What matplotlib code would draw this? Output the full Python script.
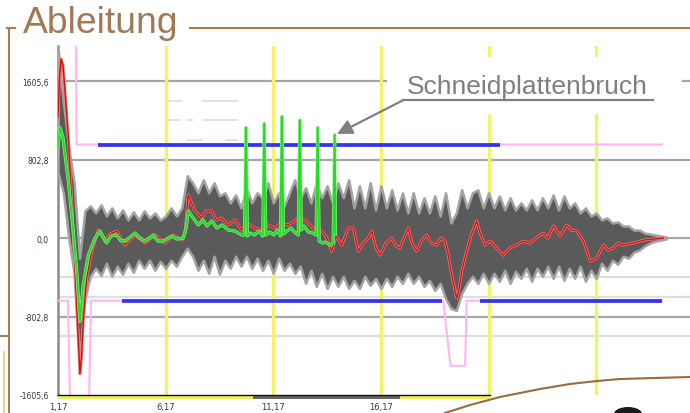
import numpy as np
import matplotlib
matplotlib.use('Agg')
import matplotlib.pyplot as plt
from matplotlib.patches import Rectangle, Ellipse

# ---------------- data ----------------
ytick_vals = [-1605.6, -802.8, 0.0, 802.8, 1605.6]
ytick_labels = ['-1605,6', '-802,8', '0,0', '802,8', '1605,6']
xtick_vals = [1.17, 6.17, 11.17, 16.17]
xtick_labels = ['1,17', '6,17', '11,17', '16,17']
marker_times = [6.17, 11.17, 16.17, 21.17, 26.17]
major_grid = [-802.8, 0.0, 802.8, 1605.6]
minor_grid = [-401.4, -602.1, -1003.5]
partial_grid = [(1405, 6.28, 6.93), (1405, 7.86, 9.53),
                (1204, 6.28, 6.84), (1204, 7.16, 7.44), (1204, 7.90, 9.53),
                (1003, 7.16, 7.90), (1003, 8.93, 9.53)]

band_start, band_step = 1.17, 0.25
band_hi = [1955, 1389, 926, 566, -206, 278, 329, 257, 340, 226,
           309, 206, 288, 185, 268, 185, 278, 206, 257, 185,
           226, 309, 226, 309, 638, 566, 463, 597, 463, 566,
           432, 463, 360, 442, 309, 515, 360, 463, 412, 566,
           360, 463, 329, 463, 597, 412, 515, 360, 566, 412,
           535, 360, 566, 412, 597, 309, 535, 309, 566, 288,
           535, 309, 494, 288, 463, 257, 463, 257, 412, 257,
           432, 226, 463, 154, 257, 494, 309, 463, 494, 309,
           463, 309, 432, 288, 412, 288, 360, 288, 391, 288,
           412, 309, 442, 288, 432, 309, 360, 257, 309, 226,
           257, 185, 206, 154, 165, 123, 123, 82, 82, 51,
           41, 31, 21, 10]
band_lo = [669, 463, 0, -360, -1250, -617, -391, -309, -381, -257,
           -391, -288, -370, -257, -350, -226, -309, -226, -329, -237,
           -309, -226, -288, -185, -103, -185, -329, -226, -360, -185,
           -370, -226, -309, -185, -288, -185, -309, -206, -329, -226,
           -360, -206, -329, -257, -360, -288, -463, -329, -494, -360,
           -515, -391, -494, -391, -515, -432, -515, -391, -484, -412,
           -515, -412, -494, -391, -463, -360, -463, -391, -494, -432,
           -535, -463, -617, -720, -741, -566, -463, -391, -463, -360,
           -463, -360, -442, -329, -463, -340, -412, -309, -442, -309,
           -391, -288, -412, -288, -432, -309, -412, -288, -442, -329,
           -412, -257, -329, -226, -268, -185, -206, -144, -123, -82,
           -51, -31, -21, -10]

red_t = [1.17, 1.24, 1.31, 1.40, 1.50, 1.65, 1.81, 1.96, 2.11, 2.19,
         2.26, 2.34, 2.50, 2.74, 3.04, 3.35, 3.59, 3.90, 4.28, 4.75,
         5.21, 5.68, 6.14, 6.53, 6.92, 7.07, 7.22, 7.53, 7.84, 8.04,
         8.31, 8.51, 8.77, 9.07, 9.39, 9.70, 10.00, 10.32, 10.65, 10.92,
         11.25, 11.53, 11.85, 12.22, 12.64, 13.01, 13.42, 13.66, 13.88, 14.08,
         14.35, 14.65, 14.89, 15.12, 15.34, 15.58, 15.74, 15.94, 16.13, 16.40,
         16.67, 16.87, 17.05, 17.24, 17.44, 17.61, 17.83, 18.03, 18.30, 18.50,
         18.76, 18.96, 19.15, 19.28, 19.46, 19.69, 19.80, 19.92, 20.15, 20.35,
         20.62, 20.77, 21.00, 21.24, 21.55, 21.85, 22.16, 22.47, 22.77, 23.09,
         23.37, 23.71, 23.93, 24.18, 24.49, 24.80, 25.00, 25.26, 25.58, 25.89,
         26.19, 26.50, 26.72, 26.96, 27.18, 27.43, 27.89, 28.36, 28.82, 29.29]
red_v = [1235, 1646, 1832, 1770, 1492, 1029, 340, -340, -1029, -1389,
         -1235, -854, -412, -134, 82, -31, 41, 72, -72, 31,
         -51, 31, -51, 31, -21, 51, 442, 278, 206, 278,
         278, 185, 206, 134, 185, 82, 144, 103, 82, 134,
         103, 154, 134, 185, 185, 103, 72, 0, -134, 21,
         -72, 103, 103, -134, -51, 0, 72, -103, -175, -51,
         0, -82, -103, 0, 103, -51, -134, -31, 31, -51,
         -72, 0, -31, -154, -381, -617, -515, -340, -134, 21,
         175, 51, -72, -31, -103, -175, -103, -72, -31, -51,
         0, 51, 0, 123, 21, 134, 82, 72, -31, -237,
         -206, -72, -123, -103, -51, -72, -51, -21, -10, 0]

green_t = [1.17, 1.26, 1.40, 1.54, 1.65, 1.77, 1.88, 2.04, 2.19, 2.34,
           2.58, 2.89, 3.12, 3.43, 3.63, 3.90, 4.10, 4.36, 4.75, 4.98,
           5.21, 5.60, 5.81, 6.06, 6.45, 6.70, 6.99, 7.12, 7.22, 7.44,
           7.69, 7.90, 8.09, 8.31, 8.55, 8.79, 9.08, 9.39, 9.70, 9.83,
           9.90, 9.97, 10.10, 10.30, 10.50, 10.68, 10.75, 10.82, 11.00, 11.20,
           11.35, 11.50, 11.57, 11.64, 11.80, 12.00, 12.15, 12.33, 12.40, 12.47,
           12.60, 12.80, 13.00, 13.16, 13.23, 13.30, 13.45, 13.60, 13.80, 13.95,
           14.02, 14.06]
green_v = [926, 1132, 1029, 772, 587, 309, 72, -340, -854, -484,
           -175, 0, 72, -51, 21, 31, -31, -21, 51, 0,
           -31, 31, -31, -31, 21, -10, 0, 103, 278, 206,
           134, 185, 123, 175, 103, 134, 82, 72, 31, 31,
           1132, 21, 51, 31, 72, 21, 1173, 31, 62, 31,
           82, 21, 1245, 41, 72, 103, 62, 31, 1207, 82,
           123, 62, 51, 31, 1132, -31, -51, -41, -72, -51,
           1057, 41]

upper_pink_t = [2.00, 2.03, 29.22]
upper_pink_v = [2100, 957, 957]
upper_blue_t = [3.03, 21.70]
upper_blue_v = [957, 957]
lower_pink_t = [1.17, 1.63, 1.73, 2.61, 2.70, 19.06, 19.40, 20.08, 20.15, 29.22]
lower_pink_v = [-640, -640, -1700, -1700, -640, -640, -1307, -1307, -640, -640]
lower_blue_segments = [(4.14, 18.99), (20.77, 29.22)]
lower_blue_v = -645

# ---------------- figure ----------------
W, H = 690, 414
fig = plt.figure(figsize=(W / 100, H / 100), dpi=100)
fig.patch.set_facecolor('white')

ax = fig.add_axes([58 / W, 18 / H, 632 / W, 349 / H])
ax.set_xlim(1.17, 30.525)
ax.set_ylim(-1605.6, 1965)
for s in ['top', 'right', 'bottom']:
    ax.spines[s].set_visible(False)
ax.spines['left'].set_color('#8c8c8c')
ax.spines['left'].set_linewidth(1.8)

ax.set_yticks(ytick_vals)
ax.set_yticklabels(ytick_labels, fontsize=5.5, color='#2b3845')
ax.set_xticks(xtick_vals)
ax.set_xticklabels(xtick_labels, fontsize=6, color='#3a3a30')
ax.tick_params(axis='both', length=0)
ax.tick_params(axis='y', pad=6.5)
ax.tick_params(axis='x', pad=5)

for y in minor_grid:
    ax.axhline(y, color='#dedede', lw=1.6, zorder=1)
for y, x0, x1 in partial_grid:
    ax.hlines(y, x0, x1, color='#e2e2e2', lw=1.4, zorder=1)
for y in major_grid:
    ax.axhline(y, color='#a6a6a6', lw=1.6, zorder=1)
for t in marker_times:
    ax.axvline(t, color='#f5f168', lw=2.4, zorder=2)

band_t = np.round(band_start + band_step * np.arange(len(band_hi)), 2)
ax.fill_between(band_t, band_lo, band_hi, facecolor='#5a5a5a',
                edgecolor='#a3a3a3', lw=1.8, zorder=3)

ax.plot(upper_pink_t, upper_pink_v, color='#ffb6f2', lw=1.5, zorder=4)
ax.plot(lower_pink_t, lower_pink_v, color='#ffb6f2', lw=1.5, zorder=4)
ax.plot(upper_blue_t, upper_blue_v, color='#3434ee', lw=2.7, zorder=5,
        solid_capstyle='butt')
for x0, x1 in lower_blue_segments:
    ax.plot([x0, x1], [lower_blue_v, lower_blue_v], color='#3434ee', lw=2.7,
            zorder=5, solid_capstyle='butt')

ax.plot(red_t, red_v, color='#f08080', lw=2.0, zorder=6)
ax.plot(red_t, red_v, color='#dd0d0d', lw=1.0, zorder=7)
ax.plot(green_t, green_v, color='#90f090', lw=2.3, zorder=8)
ax.plot(green_t, green_v, color='#22dd22', lw=1.4, zorder=9)

# ---------------- overlay (layout decorations in pixels) ----------------
ov = fig.add_axes([0, 0, 1, 1], zorder=5)
ov.set_xlim(0, W)
ov.set_ylim(H, 0)
ov.axis('off')

brown = '#a57c55'
ov.text(23, 33, 'Ableitung', fontsize=26.8, color='#a07a58',
        family='Liberation Sans', va='baseline', ha='left')
ov.plot([190, 690], [28.5, 28.5], color=brown, lw=1.5)
ov.plot([7, 15], [28.5, 28.5], color=brown, lw=1.5)
ov.plot([8.5, 8.5], [28.5, 414], color=brown, lw=1.5)
ov.plot([0, 8.5], [337, 337], color=brown, lw=1.5)
ov.plot([4, 4], [353, 414], color='#dcdc9a', lw=1.5)

# annotation
ov.add_patch(Rectangle((387, 58), 295, 57, facecolor='white', edgecolor='none', zorder=1))
ov.text(407, 94, 'Schneidplattenbruch', fontsize=19, color='#7f7f7f',
        family='Liberation Sans', va='baseline', ha='left', zorder=3)
ov.plot([403, 653], [101, 101], color='#808080', lw=1.6, zorder=3)
ov.annotate('', xy=(337, 135), xytext=(403.5, 101),
            arrowprops=dict(arrowstyle='-|>,head_length=0.9,head_width=0.45',
                            color='#808080', lw=1.6, shrinkA=0, shrinkB=0),
            zorder=3)

# bottom range strip
ov.add_patch(Rectangle((58, 396.5), 432, 3.5, facecolor='#f4f05a', edgecolor='none', zorder=2))
ov.add_patch(Rectangle((253, 396.5), 147, 3.5, facecolor='#666666', edgecolor='none', zorder=2))
ov.plot([58, 490], [395.8, 395.8], color='#111111', lw=1.0, zorder=3)

# bottom-right brown curve and dark blob
ov.plot([445, 470, 500, 540, 570, 597, 620, 690],
        [414, 406, 398, 390, 385, 382, 380, 378], color='#9a6a40', lw=1.5, zorder=3)
ov.add_patch(Ellipse((628, 415), 28, 14, facecolor='#1a1a1a', edgecolor='none', zorder=3))

fig.savefig('out.png', dpi=100, facecolor='white')
